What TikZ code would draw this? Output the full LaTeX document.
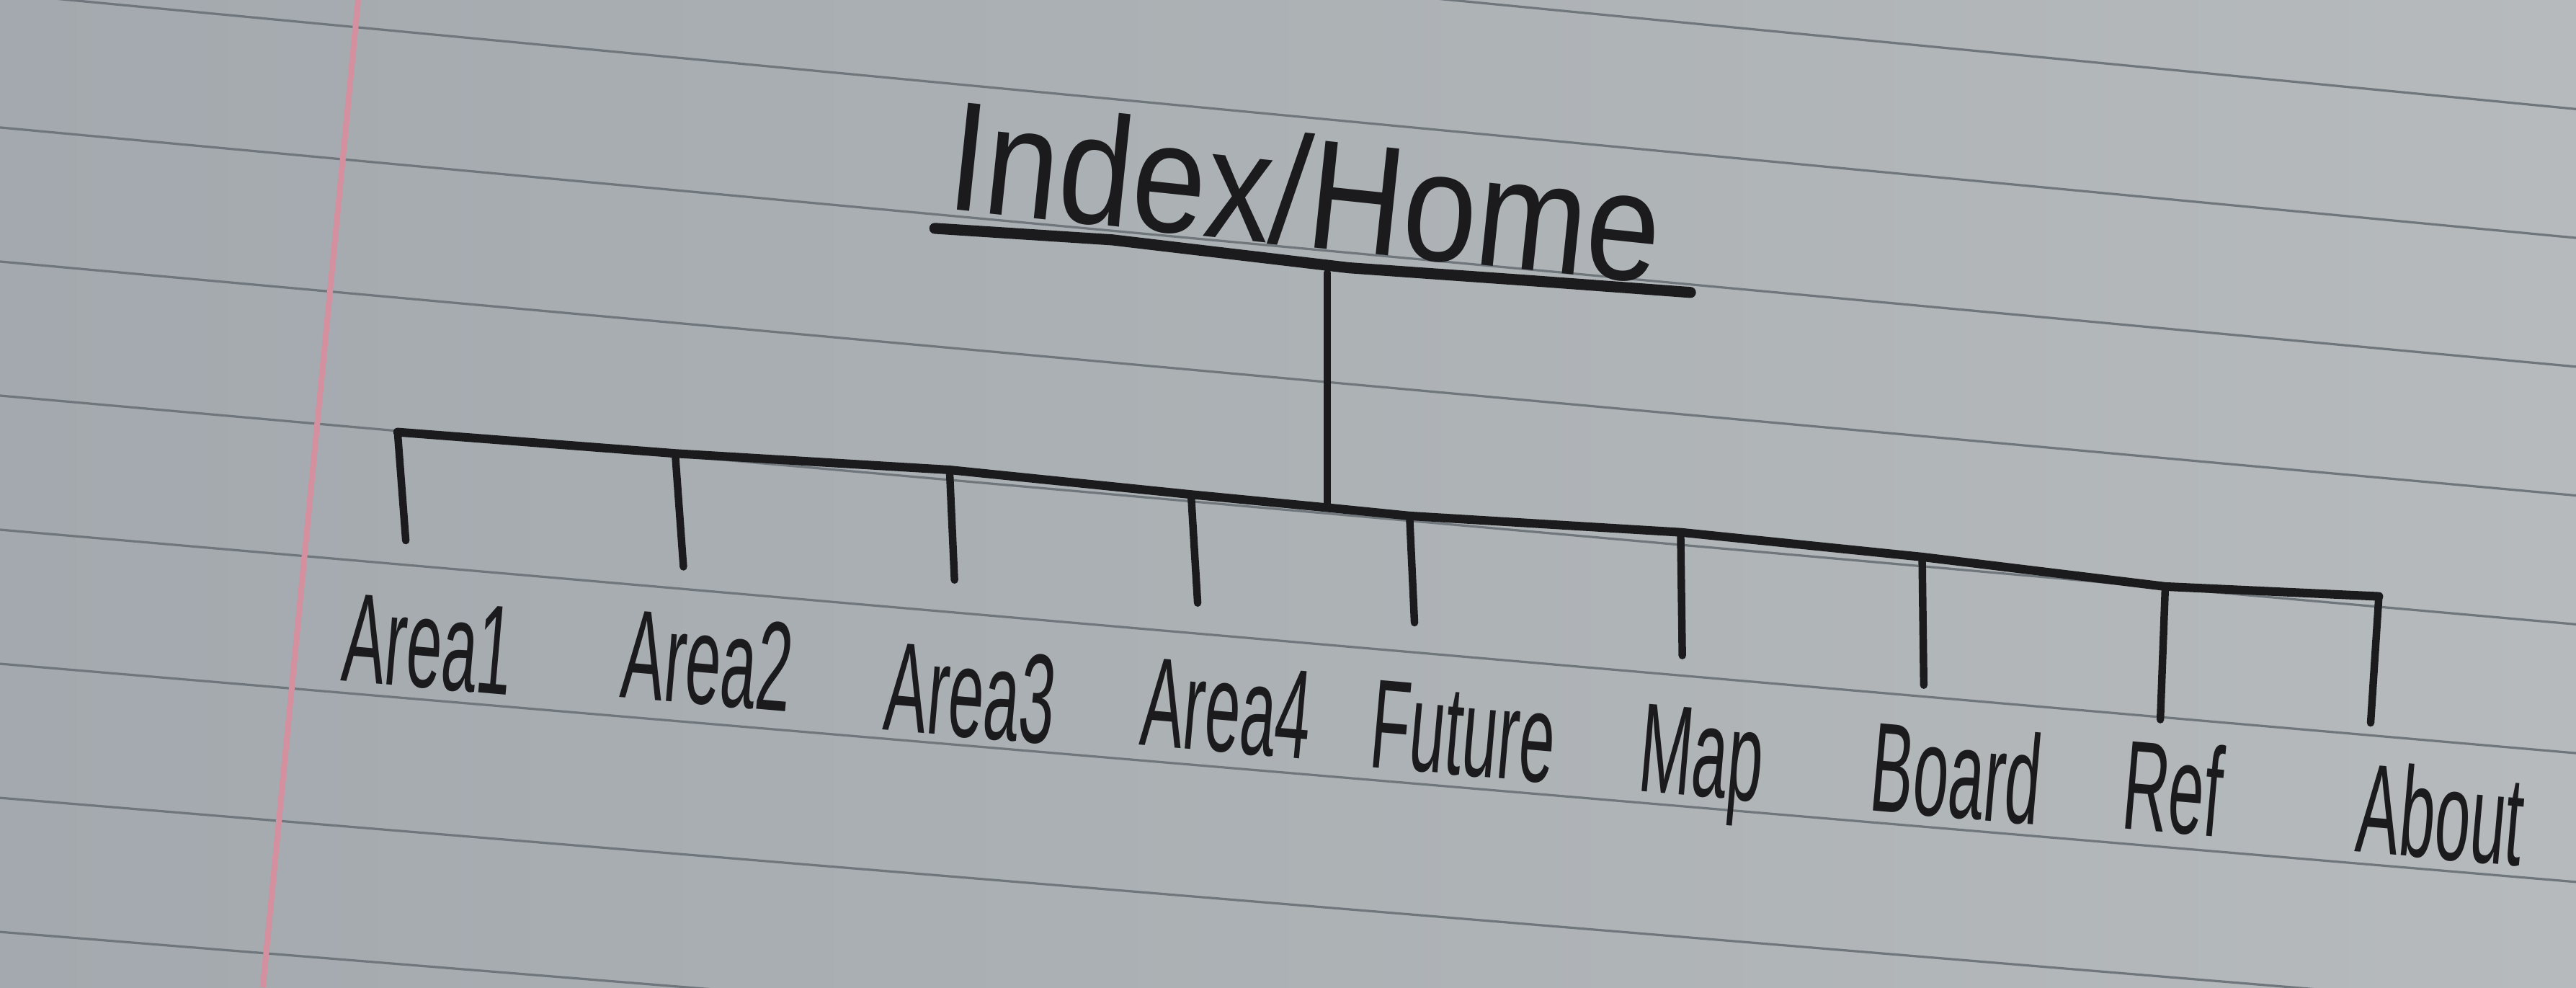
\documentclass[tikz,border=0pt]{standalone}
\usepackage{fontspec}
\newfontfamily\handfont[FakeStretch=0.5]{Liberation Sans}
\newfontfamily\titlefont[FakeStretch=0.85]{Liberation Sans}
\usepackage{xcolor}
\usepackage{tikz}
\usetikzlibrary{positioning}

\definecolor{inkblack}{HTML}{1B1B1D}
\definecolor{paperleft}{HTML}{A3A9AE}
\definecolor{paperright}{HTML}{B6BABC}
\definecolor{ruleline}{HTML}{6F767C}
\definecolor{marginred}{HTML}{D4909E}

\begin{document}
\begin{tikzpicture}[
  x=0.01cm, y=-0.01cm,
  paperrule/.style={draw=ruleline, line width=0.4pt},
  marginline/.style={draw=marginred, line width=1pt},
  underline/.style={draw=inkblack, line width=1.9pt, line cap=round, line join=round},
  bus/.style={draw=inkblack, line width=1.5pt, line cap=round, line join=round},
  drop/.style={draw=inkblack, line width=1.3pt, line cap=round},
  homenode/.style={font=\titlefont\fontsize{27}{27}\selectfont, text=inkblack, rotate=-6, inner sep=0pt, text height=19.4pt, text depth=0pt},
  leafnode/.style={font=\handfont\fontsize{22}{22}\selectfont, text=inkblack, rotate=-5, inner sep=0pt, text height=15.8pt, text depth=0pt}
]

  % Lined paper
  \useasboundingbox (0,0) rectangle (1568,601);
  \clip (0,0) rectangle (1568,601);
  \shade[left color=paperleft, right color=paperright] (0,0) rectangle (1568,601);
  \draw[paperrule] (0,-85.6) -- (1568,66.4);
  \draw[paperrule] (0,-4) -- (1568,144.8);
  \draw[paperrule] (0,77.6) -- (1568,223.2);
  \draw[paperrule] (0,159.2) -- (1568,301.6);
  \draw[paperrule] (0,240.8) -- (1568,380);
  \draw[paperrule] (0,322.4) -- (1568,458.4);
  \draw[paperrule] (0,404) -- (1568,536.8);
  \draw[paperrule] (0,485.6) -- (1568,615.2);
  \draw[paperrule] (0,567.2) -- (1568,693.6);
  \draw[marginline] (218,0) -- (160,601);

  % Root page
  \node[homenode] (home) at (795,116) {Index/Home};
  \draw[underline] (569,139) -- (677,146) -- (821,163) -- (934,171) -- (1029,178);
  \coordinate (top) at (808,166);
  \coordinate (hub) at (808,309);
  \draw[drop] (top) -- (hub);

  % Bus junctions
  \coordinate (j1) at (242,263);
  \coordinate (j2) at (411,276);
  \coordinate (j3) at (578,286);
  \coordinate (j4) at (725,301);
  \coordinate (j5) at (858,314);
  \coordinate (j6) at (1023,324);
  \coordinate (j7) at (1170,339);
  \coordinate (j8) at (1318,357);
  \coordinate (j9) at (1448,363);
  \draw[bus] (j1) -- (j2) -- (j3) -- (j4) -- (hub) -- (j5) -- (j6) -- (j7) -- (j8) -- (j9);

  % Drop ends
  \coordinate (e1) at (247,329);
  \coordinate (e2) at (416,345);
  \coordinate (e3) at (581,353);
  \coordinate (e4) at (729,367);
  \coordinate (e5) at (861,379);
  \coordinate (e6) at (1024,399);
  \coordinate (e7) at (1171,417);
  \coordinate (e8) at (1315,438);
  \coordinate (e9) at (1443,440);

  % Child pages
  \node[leafnode] (a1) at (261,391) {Area1};
  \node[leafnode] (a2) at (431,401) {Area2};
  \node[leafnode] (a3) at (591,421) {Area3};
  \node[leafnode] (a4) at (747,430) {Area4};
  \node[leafnode] (a5) at (891,444) {Future};
  \node[leafnode] (a6) at (1036,457) {Map};
  \node[leafnode] (a7) at (1191,470) {Board};
  \node[leafnode] (a8) at (1323,479) {Ref};
  \node[leafnode] (a9) at (1486,495) {About};

  % Links down to children
  \draw[drop] (j1) -- (e1);
  \draw[drop] (j2) -- (e2);
  \draw[drop] (j3) -- (e3);
  \draw[drop] (j4) -- (e4);
  \draw[drop] (j5) -- (e5);
  \draw[drop] (j6) -- (e6);
  \draw[drop] (j7) -- (e7);
  \draw[drop] (j8) -- (e8);
  \draw[drop] (j9) -- (e9);

\end{tikzpicture}
\end{document}
